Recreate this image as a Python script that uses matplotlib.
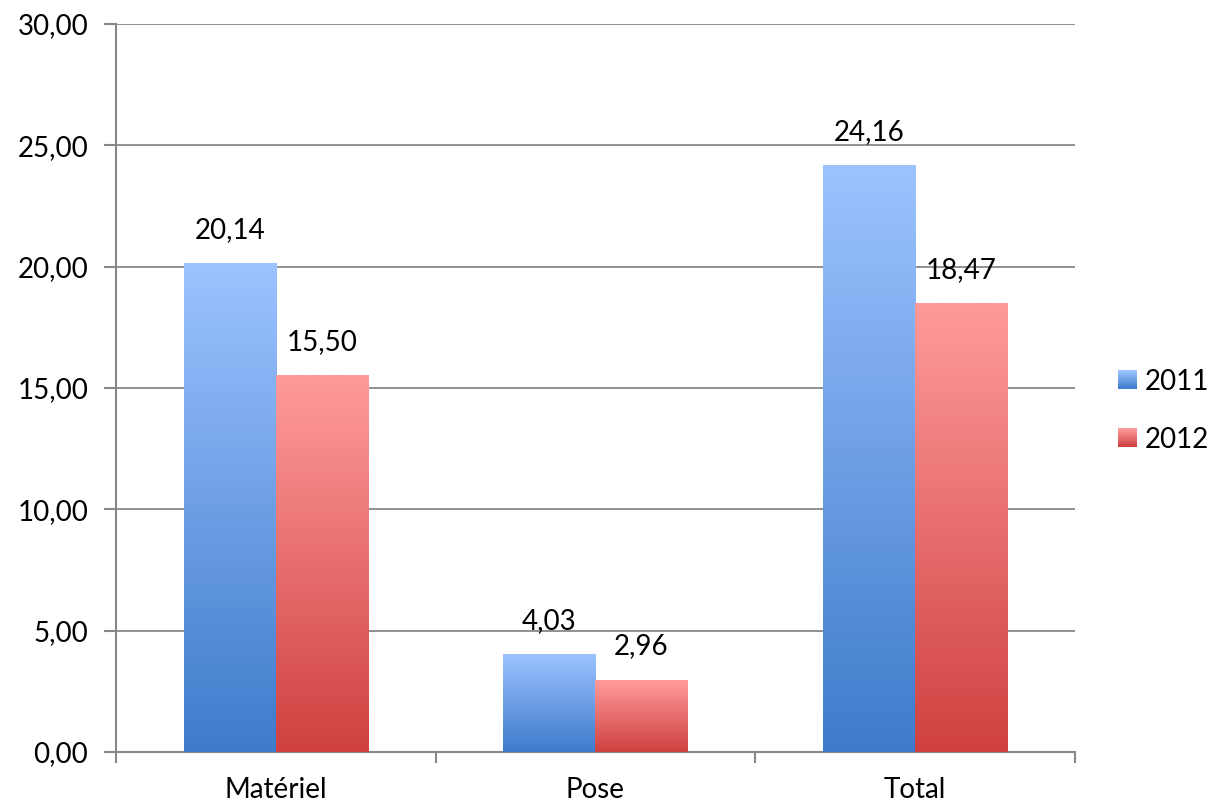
import numpy as np
import matplotlib
matplotlib.use("Agg")
import matplotlib.pyplot as plt
from matplotlib.colors import LinearSegmentedColormap
from matplotlib.patches import Rectangle
from matplotlib.legend_handler import HandlerBase

categories = ["Matériel", "Pose", "Total"]
years = ["2011", "2012"]
values_2011 = [20.14, 4.03, 24.16]
values_2012 = [15.50, 2.96, 18.47]

plt.rcParams['font.family'] = ['Lato', 'DejaVu Sans']
FS = 20

# bottom colour -> top colour for each series
blue_cm = LinearSegmentedColormap.from_list("b", ["#3e7bcb", "#9dc3ff"])
red_cm = LinearSegmentedColormap.from_list("r", ["#cf4140", "#ff9b9b"])
grad = np.linspace(0, 1, 256).reshape(-1, 1)

fig = plt.figure(figsize=(12.1, 8.05), dpi=100)
ax = fig.add_axes([116 / 1210, 53 / 805, 959 / 1210, 728 / 805])

x = np.arange(len(categories))
w = 0.288


def grad_bar(ax, xc, h, cmap):
    ax.imshow(grad, cmap=cmap, origin="lower", aspect="auto",
              extent=[xc - w / 2, xc + w / 2, 0, h], zorder=3)


for i, (a, b) in enumerate(zip(values_2011, values_2012)):
    grad_bar(ax, x[i] - w / 2, a, blue_cm)
    grad_bar(ax, x[i] + w / 2, b, red_cm)
    ax.text(x[i] - w / 2, a + 0.85, f"{a:.2f}".replace(".", ","),
            ha="center", va="bottom", fontsize=FS)
    ax.text(x[i] + w / 2, b + 0.85, f"{b:.2f}".replace(".", ","),
            ha="center", va="bottom", fontsize=FS)

ax.set_xlim(-0.5, 2.5)
ax.set_ylim(0, 30)
ax.set_yticks(np.arange(0, 31, 5))
ax.set_yticklabels([f"{v:.2f}".replace(".", ",") for v in np.arange(0, 31, 5)],
                   fontsize=FS)
ax.set_xticks(x)
ax.set_xticklabels(categories, fontsize=FS)
ax.set_xticks([-0.5, 0.5, 1.5, 2.5], minor=True)
ax.tick_params(axis="x", which="major", length=0, pad=18)
ax.tick_params(axis="x", which="minor", length=8, color="#888888", width=1.5)
ax.tick_params(axis="y", length=9, color="#888888", width=1.5, pad=11)

ax.grid(axis="y", color="#888888", linewidth=1.3, zorder=1)
ax.set_axisbelow(True)
for s in ["top", "right"]:
    ax.spines[s].set_visible(False)
for s in ["left", "bottom"]:
    ax.spines[s].set_color("#888888")
    ax.spines[s].set_linewidth(1.5)


class GradHandler(HandlerBase):
    def __init__(self, cmap):
        super().__init__()
        self.cmap = cmap

    def create_artists(self, legend, orig, xd, yd, width, height, fontsize, trans):
        n = 20
        side = height * 0.95
        x0 = xd + width - side
        y0 = yd - (side - height) / 2
        arts = []
        for k in range(n):
            r = Rectangle((x0, y0 + side * k / n), side, side / n + 0.3,
                          facecolor=self.cmap(k / (n - 1)), edgecolor="none",
                          transform=trans)
            arts.append(r)
        return arts


h1 = Rectangle((0, 0), 1, 1)
h2 = Rectangle((0, 0), 1, 1)
fig.legend([h1, h2], years, loc="center left", bbox_to_anchor=(1116 / 1210, 0.49),
           frameon=False, fontsize=FS, handlelength=0.75, handletextpad=0.3,
           labelspacing=1.15, borderaxespad=0, borderpad=0,
           handler_map={h1: GradHandler(blue_cm), h2: GradHandler(red_cm)})

fig.savefig("out.png", dpi=100)
